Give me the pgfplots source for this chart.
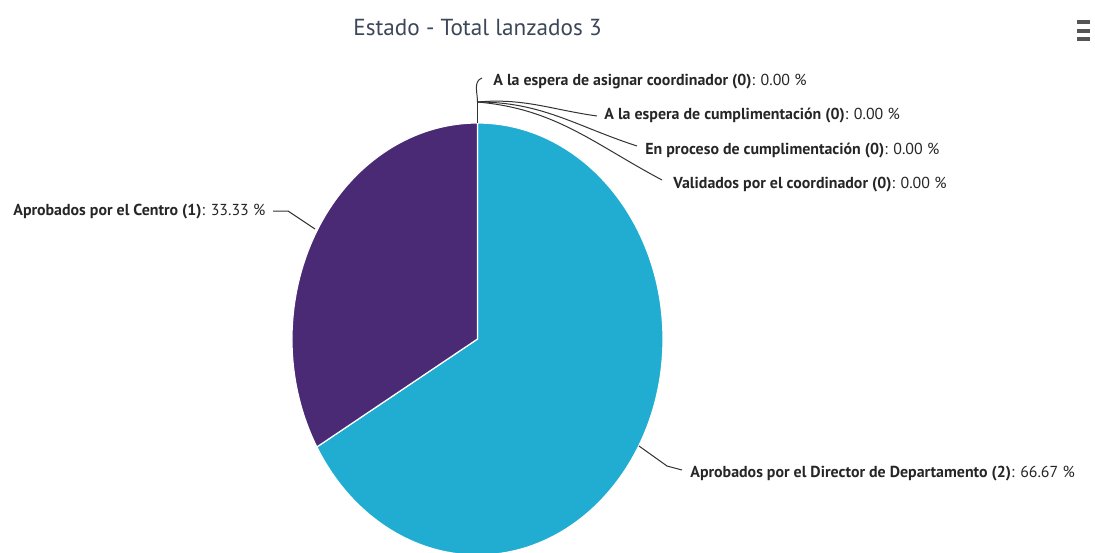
\documentclass[border=0pt]{standalone}
\usepackage{pgfplots}
\pgfplotsset{compat=1.18}
\usepackage{pgfplotstable}
\usepackage{fontspec}
\setmainfont{PT Sans}
\definecolor{cCentro}{HTML}{4A2A74}
\definecolor{cDir}{HTML}{21ADD1}
\definecolor{titlec}{HTML}{3B4658}
\definecolor{conn}{HTML}{333333}
\definecolor{menuc}{HTML}{555555}
\pgfplotstableread[col sep=comma]{
label,count,value
A la espera de asignar coordinador,0,0.00
A la espera de cumplimentación,0,0.00
En proceso de cumplimentación,0,0.00
Validados por el coordinador,0,0.00
Aprobados por el Director de Departamento,2,66.67
Aprobados por el Centro,1,33.33
}\piedata
\newcommand\lblfont{\fontsize{7.95}{9}\selectfont}
\begin{document}
\begin{tikzpicture}
\pgfplotstablegetelem{4}{value}\of\piedata \let\vDir\pgfplotsretval
\pgfplotstablegetelem{5}{value}\of\piedata \let\vCen\pgfplotsretval
\pgfmathsetmacro\aA{90}
\pgfmathsetmacro\aB{90-3.6*\vDir}
\pgfmathsetmacro\aC{\aB-3.6*\vCen}
\begin{axis}[hide axis, scale only axis, width=547.5pt, height=276pt,
  xmin=0, xmax=1095, ymin=0, ymax=552, y dir=reverse, clip=false]
% slices
\fill[cDir, draw=white, line width=0.6pt] (axis cs:477.5,339) -- ++(\aA:92.75pt and 108pt)
  arc[start angle=\aA, end angle=\aB, x radius=92.75pt, y radius=108pt] -- cycle;
\fill[cCentro, draw=white, line width=0.6pt] (axis cs:477.5,339) -- ++(\aB:92.75pt and 108pt)
  arc[start angle=\aB, end angle=\aC, x radius=92.75pt, y radius=108pt] -- cycle;
% connectors
\draw[conn, line width=0.5pt] (axis cs:477.5,123) -- (axis cs:477.5,102);
\draw[conn, line width=0.5pt] (axis cs:477.5,102) to[out=90,in=200] (axis cs:482,78);
\draw[conn, line width=0.5pt] (axis cs:477.5,102) to[out=5,in=172] (axis cs:597,116);
\draw[conn, line width=0.5pt] (axis cs:477.5,102) to[out=0,in=162] (axis cs:637,146);
\draw[conn, line width=0.5pt] (axis cs:477.5,102) to[out=-5,in=152] (axis cs:662,180);
\draw[conn, line width=0.5pt] (axis cs:273,211) -- (axis cs:288,211) -- (axis cs:315,229);
\draw[conn, line width=0.5pt] (axis cs:639,446) -- (axis cs:667,466) -- (axis cs:682,470);
% labels
\begin{scope}[every node/.style={anchor=base west, inner sep=0pt, font=\lblfont, text=black!85}]
\node at (axis cs:493,85) {\textbf{A la espera de asignar coordinador (0)}: 0.00 \%};
\node at (axis cs:604,119) {\textbf{A la espera de cumplimentación (0)}: 0.00 \%};
\node at (axis cs:645,154) {\textbf{En proceso de cumplimentación (0)}: 0.00 \%};
\node at (axis cs:673,188) {\textbf{Validados por el coordinador (0)}: 0.00 \%};
\node at (axis cs:13,215) {\textbf{Aprobados por el Centro (1)}: 33.33 \%};
\node at (axis cs:690,477) {\textbf{Aprobados por el Director de Departamento (2)}: 66.67 \%};
\end{scope}
% title
\node[anchor=base, inner sep=0pt, text=titlec, font=\fontsize{11.6}{13}\selectfont] at (axis cs:477.5,35) {Estado - Total lanzados 3};
% menu icon
\fill[menuc] (axis cs:1077,20) rectangle (axis cs:1090,24);
\fill[menuc] (axis cs:1077,29) rectangle (axis cs:1090,33);
\fill[menuc] (axis cs:1077,37) rectangle (axis cs:1090,41);
\end{axis}
\pgfresetboundingbox
\path[use as bounding box] (current axis.south west) rectangle (current axis.north east);
\end{tikzpicture}
\end{document}
